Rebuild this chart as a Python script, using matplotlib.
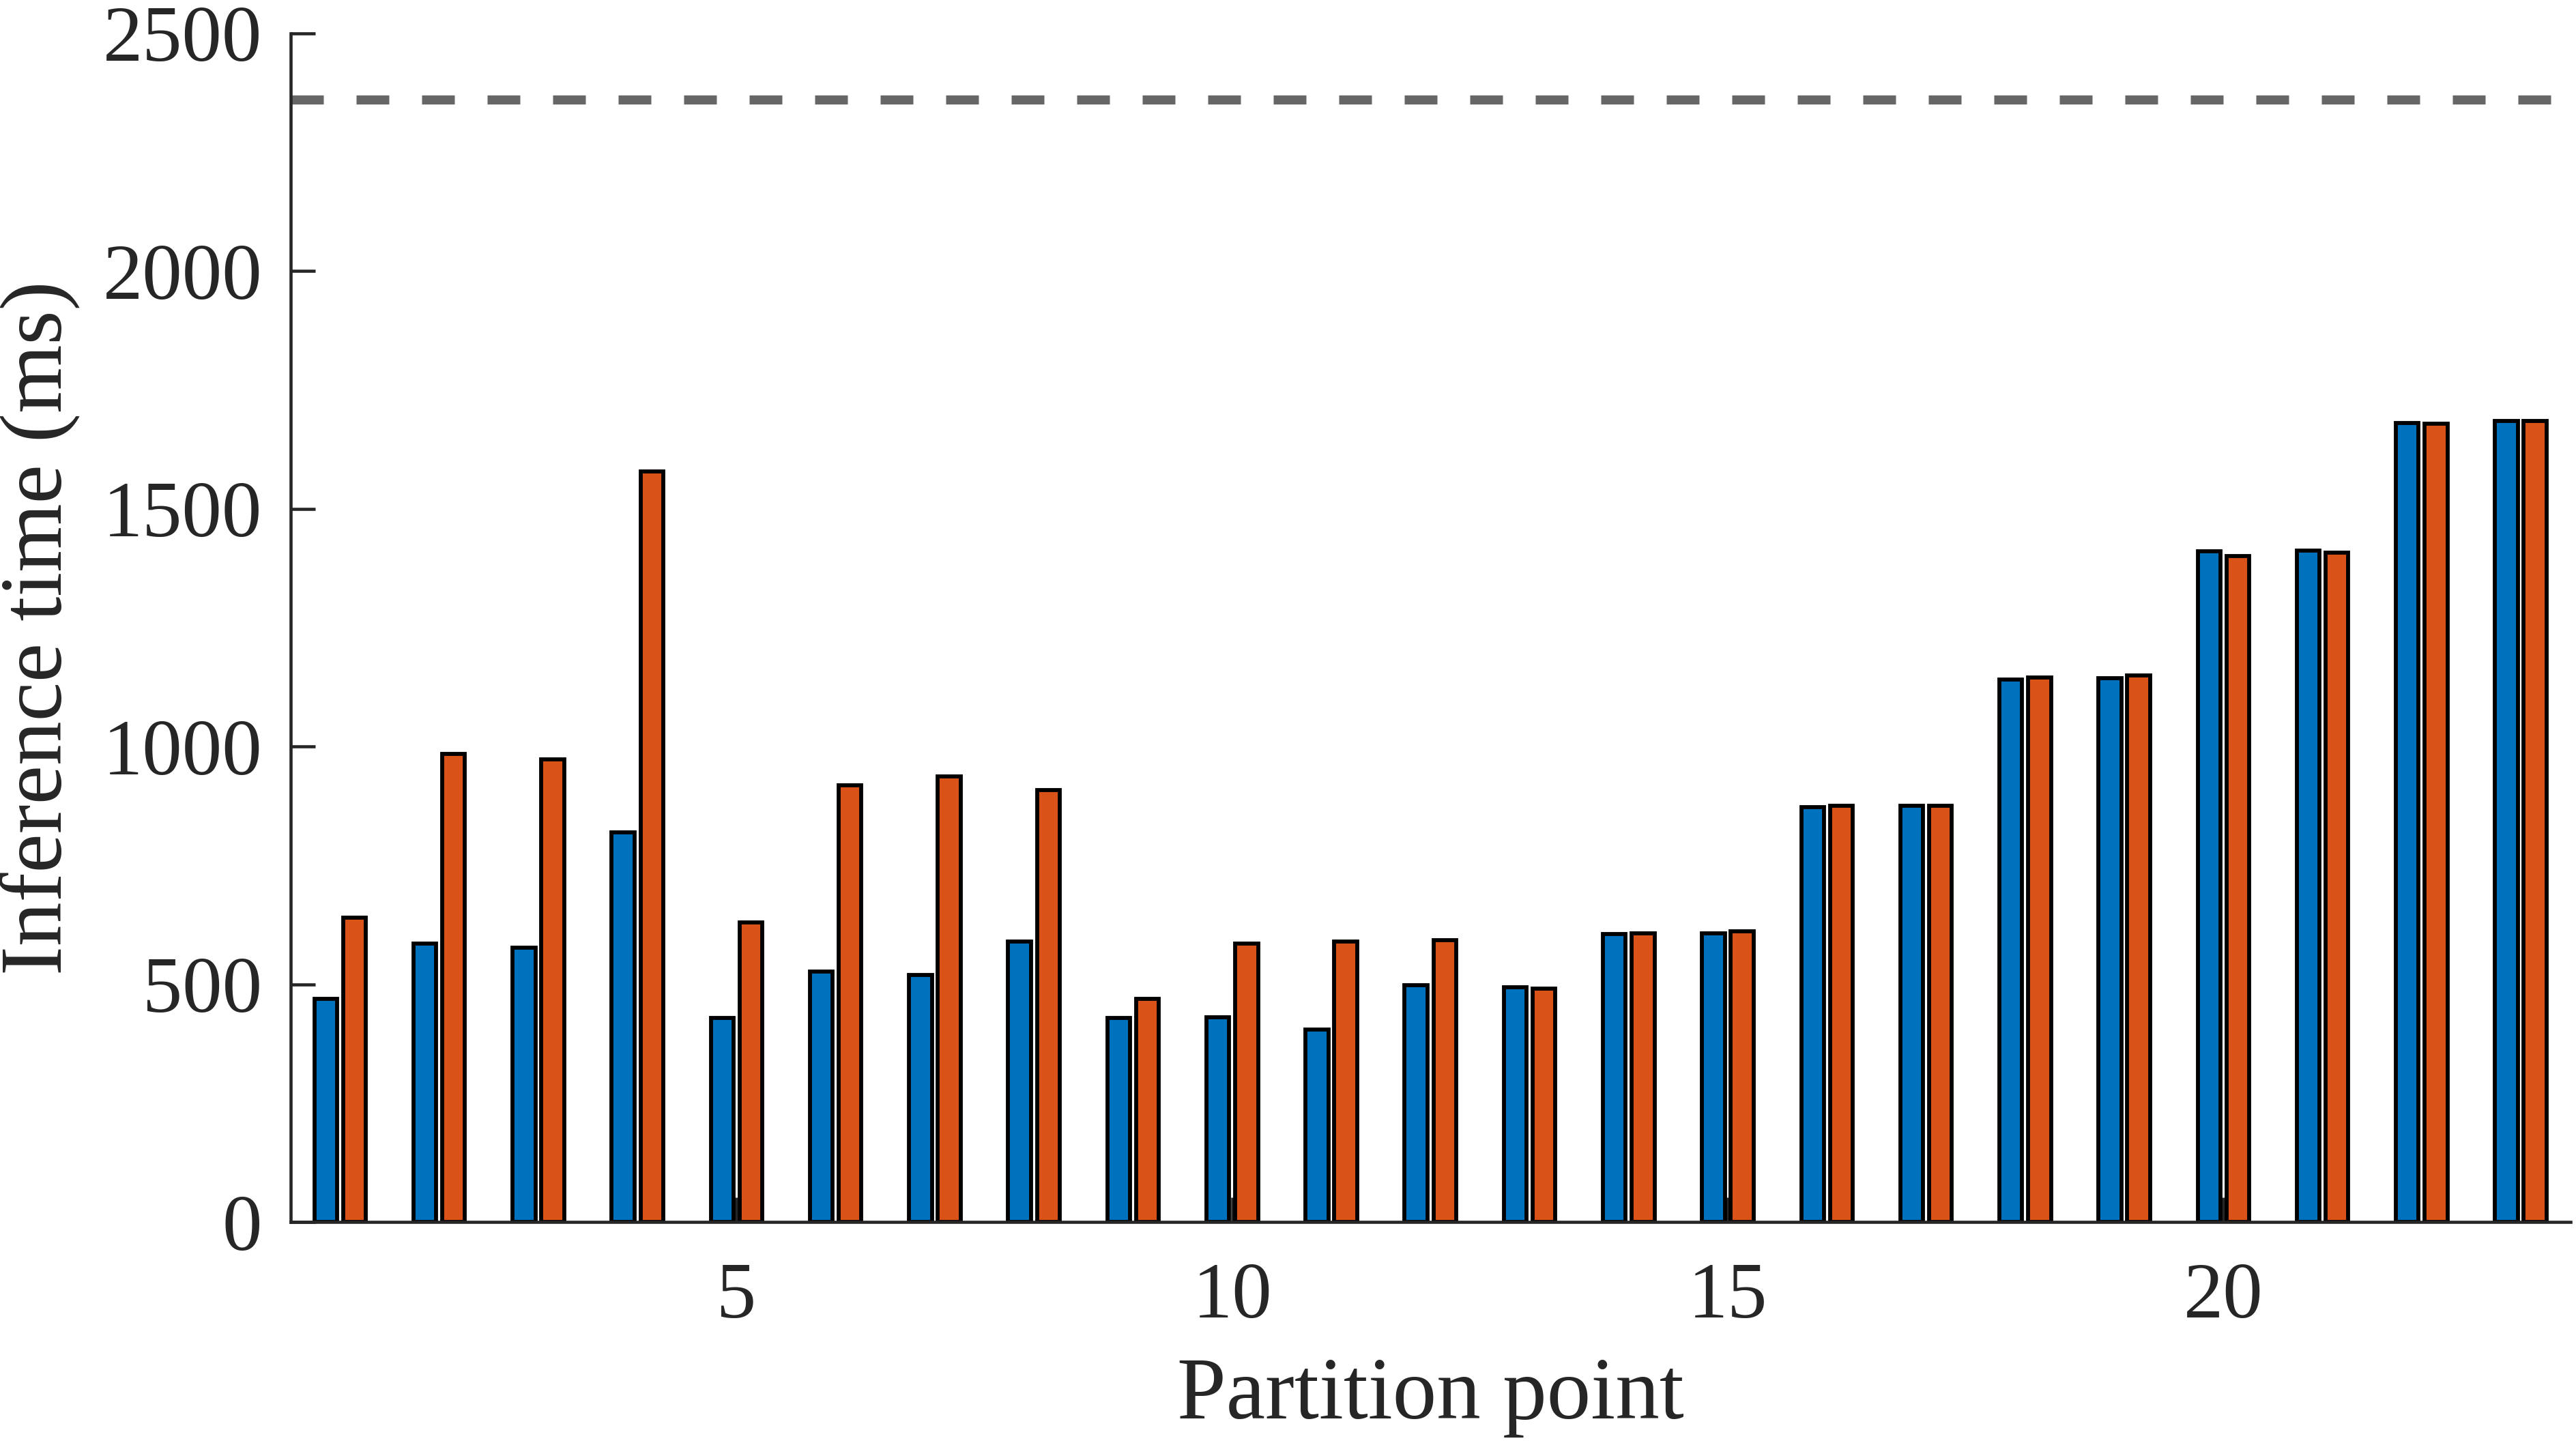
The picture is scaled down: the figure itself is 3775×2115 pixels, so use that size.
import matplotlib.pyplot as plt
import numpy as np

# partition points and inference times
points = np.arange(1, 24)
blue_ms = [470, 586, 577, 820, 429, 527, 520, 590, 429, 431, 405, 498, 494,
           606, 608, 873, 876, 1141, 1144, 1410, 1412, 1681, 1684]
orange_ms = [640, 984, 973, 1579, 630, 918, 938, 908, 469, 586, 590, 593, 491,
             607, 612, 875, 875, 1146, 1150, 1401, 1408, 1679, 1684]
baseline_ms = 2360
yticks = [0, 500, 1000, 1500, 2000, 2500]
xticks = [5, 10, 15, 20]

plt.rcParams['font.family'] = ['Liberation Serif', 'DejaVu Serif']
axcol = '#262626'

fig = plt.figure(figsize=(3775 / 300, 2115 / 300), dpi=300)
ax = fig.add_axes([0.1128, 0.153, 0.885, 0.824])

w = 0.23
off = 0.145
ax.bar(points - off, blue_ms, width=w, color='#0072BD', edgecolor='black', linewidth=1.4, zorder=2)
ax.bar(points + off, orange_ms, width=w, color='#D95319', edgecolor='black', linewidth=1.4, zorder=2)

# dashed reference line
ax.axhline(baseline_ms, color='#666666', linewidth=3.2, linestyle=(0, (3.6, 3.6)), zorder=1)

ax.set_xlim(0.5, 23.5)
ax.set_ylim(0, 2500)
ax.set_xticks(xticks)
ax.set_yticks(yticks)

for s in ['top', 'right']:
    ax.spines[s].set_visible(False)
for s in ['left', 'bottom']:
    ax.spines[s].set_color(axcol)
    ax.spines[s].set_linewidth(1.1)
    ax.spines[s].set_zorder(3)

ax.tick_params(direction='in', length=8.6, width=1.1, color=axcol,
               labelsize=28, labelcolor=axcol)
ax.tick_params(axis='y', pad=10)
ax.tick_params(axis='x', pad=14)

ax.set_xlabel('Partition point', fontsize=31, color=axcol, labelpad=8)
ax.set_ylabel('Inference time (ms)', fontsize=31, color=axcol, labelpad=8)

plt.savefig('out.png', dpi=300)
